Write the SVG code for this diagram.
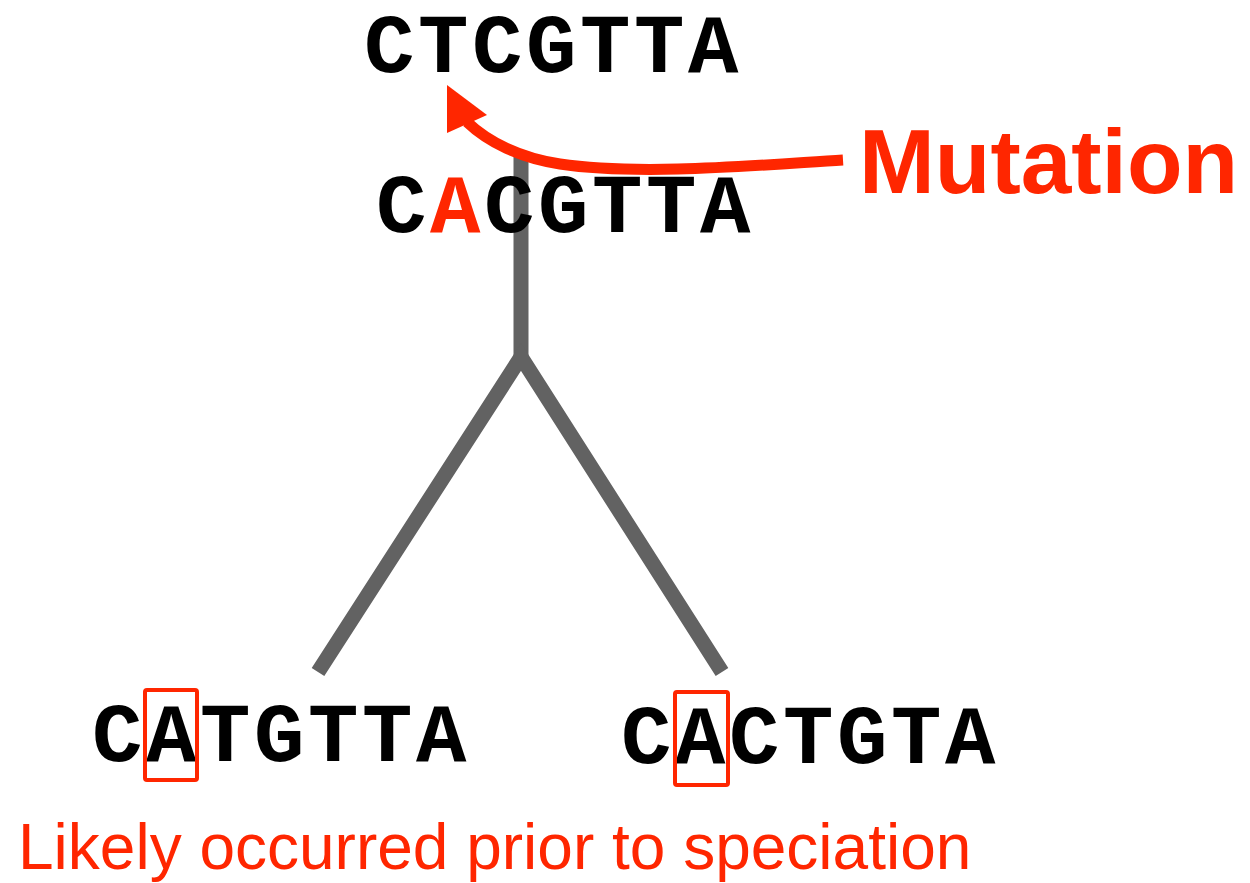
<svg xmlns="http://www.w3.org/2000/svg" width="1250" height="883" viewBox="0 0 1250 883">
<style>
.seq{font-family:"Liberation Mono","Courier New",monospace;font-weight:bold;font-size:84px;letter-spacing:3.6px;fill:#000}
.red{fill:#ff2600}
.tree{fill:none;stroke:#626262;stroke-width:15}
.box{fill:none;stroke:#ff2600;stroke-width:4}
</style>
<rect width="1250" height="883" fill="#fff"/>
<g id="connectors">
<path class="tree" d="M521,155 L521,358"/>
<path class="tree" d="M318,672 L521,357 L722,672" stroke-linejoin="miter"/>
<path d="M843,160 C760,165 640,176 560,164 C520,158 488,142 467,122" fill="none" stroke="#ff2600" stroke-width="11"/>
<polygon points="447,85 487,115 447,133" fill="#ff2600"/>
</g>
<g id="ancestor"><text class="seq" x="364" y="72">CTCGTTA</text></g>
<g id="mutation-label"><text x="859" y="193" font-family="Liberation Sans,Arial,sans-serif" font-weight="bold" font-size="91" fill="#ff2600">Mutation</text></g>
<g id="root"><text class="seq" x="376" y="232">C<tspan class="red">A</tspan>CGTTA</text></g>
<g id="leaf-left">
<text class="seq" x="92" y="761">CATGTTA</text>
<rect class="box" x="145" y="690" width="52" height="90" rx="2"/>
</g>
<g id="leaf-right">
<text class="seq" x="621" y="763">CACTGTA</text>
<rect class="box" x="675" y="692" width="53" height="93" rx="2"/>
</g>
<g id="caption"><text x="18" y="869" font-family="Liberation Sans,Arial,sans-serif" font-size="64" fill="#ff2600">Likely occurred prior to speciation</text></g>
</svg>
